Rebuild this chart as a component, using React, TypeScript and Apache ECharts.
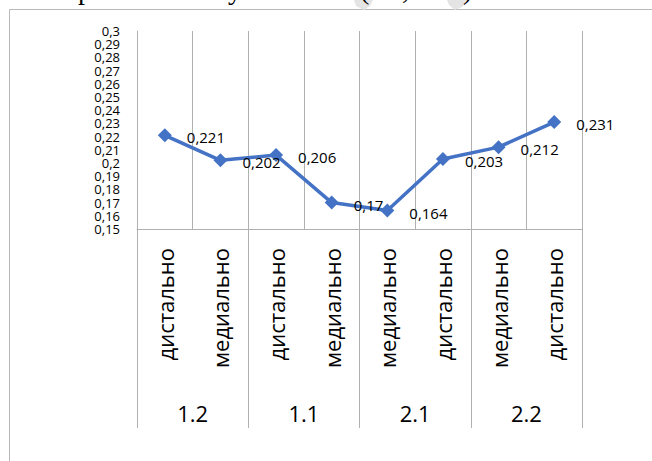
import React, { useEffect, useRef } from "react";
import * as echarts from "echarts";

const positions = ["дистально", "медиально", "дистально", "медиально", "медиально", "дистально", "медиально", "дистально"];
const groups = ["1.2", "1.1", "2.1", "2.2"];
const values = [0.221, 0.202, 0.206, 0.17, 0.164, 0.203, 0.212, 0.231];
const yMin = 0.15;
const yMax = 0.3;
const yStep = 0.01;

const FONT = '"Open Sans", "Noto Sans", sans-serif';
const GRID = "#b0b0b0";

const fmt = (v: number) => String(+Number(v).toFixed(3)).replace(".", ",");

export default function App() {
  const ref = useRef<HTMLDivElement>(null);
  useEffect(() => {
    if (!ref.current) return;
    const chart = echarts.init(ref.current, undefined, { renderer: "svg" });
    chart.setOption({
      animation: false,
      backgroundColor: "#ffffff",
      textStyle: { fontFamily: FONT },
      grid: { left: 137, right: 70, top: 31, bottom: 232, containLabel: false },
      graphic: [
        {
          type: "rect",
          shape: { x: 9.5, y: 9.5, width: 700, height: 500 },
          style: { fill: "none", stroke: "#b8b8b8", lineWidth: 1 },
          silent: true,
        },
        { type: "polygon", shape: { points: [[354, 0], [373, 0], [370, 6], [364, 10], [356, 6]] }, style: { fill: "#e4e4e4" }, silent: true },
        { type: "polygon", shape: { points: [[447, 0], [468, 0], [462, 7], [455, 10], [449, 5]] }, style: { fill: "#e4e4e4" }, silent: true },
        { type: "text", x: 78, y: 3, style: { text: "р", font: '28px "Liberation Serif"', fill: "#000", verticalAlign: "bottom" }, silent: true },
        { type: "text", x: 228, y: 3, style: { text: "у", font: '28px "Liberation Serif"', fill: "#000", verticalAlign: "bottom" }, silent: true },
        { type: "text", x: 360, y: 3, style: { text: "(", font: '28px "Liberation Serif"', fill: "#000", verticalAlign: "bottom" }, silent: true },
        { type: "text", x: 402, y: 3, style: { text: ",", font: '28px "Liberation Serif"', fill: "#000", verticalAlign: "bottom" }, silent: true },
        { type: "text", x: 463, y: 3, style: { text: ")", font: '28px "Liberation Serif"', fill: "#000", verticalAlign: "bottom" }, silent: true },
      ],
      xAxis: [
        {
          type: "category",
          data: positions,
          position: "bottom",
          boundaryGap: true,
          axisLine: { show: true, lineStyle: { color: GRID, width: 1 } },
          axisTick: { show: false },
          axisLabel: { interval: 0, rotate: 90, margin: 19, fontSize: 22, color: "#000", fontFamily: FONT },
          splitLine: { show: true, interval: 0, lineStyle: { color: GRID, width: 1 } },
        },
        {
          type: "category",
          data: groups,
          position: "bottom",
          boundaryGap: true,
          axisLine: { show: false },
          axisTick: { show: true, interval: 0, length: 199, lineStyle: { color: GRID, width: 1 } },
          axisLabel: { interval: 0, margin: 173, fontSize: 22, color: "#000", fontFamily: FONT },
          splitLine: { show: false },
        },
      ],
      yAxis: {
        type: "value",
        min: yMin,
        max: yMax,
        interval: yStep,
        axisLine: { show: true, lineStyle: { color: GRID, width: 1 } },
        axisTick: { show: false },
        splitLine: { show: false },
        axisLabel: {
          margin: 17,
          fontSize: 13,
          color: "#000",
          fontFamily: FONT,
          formatter: (v: number) => fmt(v),
        },
      },
      series: [
        {
          type: "line",
          xAxisIndex: 0,
          data: values,
          symbol: "diamond",
          symbolSize: 14,
          lineStyle: { color: "#4472C4", width: 3.5 },
          itemStyle: { color: "#4472C4" },
          label: {
            show: true,
            position: "right",
            distance: 15,
            offset: [0, 2],
            fontSize: 15,
            color: "#000",
            fontFamily: FONT,
            formatter: (p: any) => fmt(p.value),
          },
        },
      ],
    });
    return () => chart.dispose();
  }, []);
  return <div ref={ref} style={{ position: "fixed", left: 0, top: 0, width: 652, height: 461 }} />;
}
